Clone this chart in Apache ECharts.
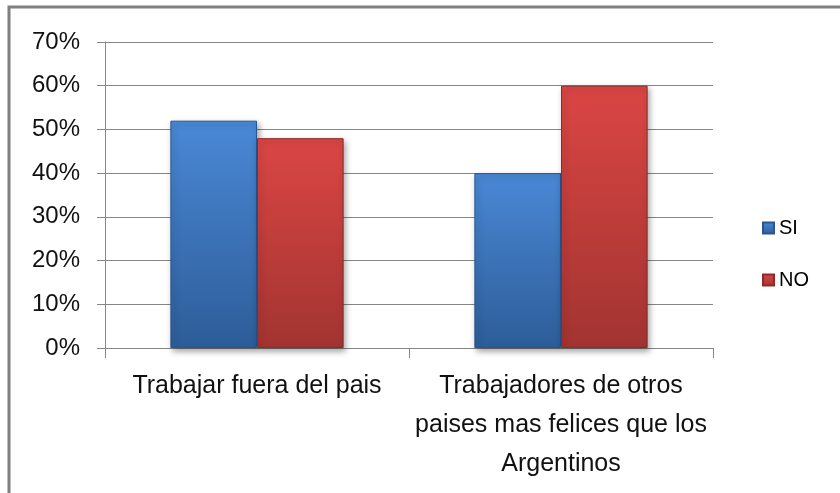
<!DOCTYPE html>
<html>
<head>
<meta charset="utf-8">
<script src="https://cdn.jsdelivr.net/npm/echarts@6/dist/echarts.min.js"></script>
<style>html,body{margin:0;padding:0;background:#fff}#c{width:840px;height:493px}</style>
</head>
<body>
<div id="c"></div>
<script>
var categories = ['Trabajar fuera del pais', 'Trabajadores de otros\npaises mas felices que los\nArgentinos'];
var seriesNames = ['SI', 'NO'];
var siValues = [52, 40];
var noValues = [48, 60];
var yTicks = {min: 0, max: 70, interval: 10};

var FONT = "'Liberation Sans Narrow', 'Liberation Sans', Arial, sans-serif";
var chart = echarts.init(document.getElementById('c'), null, {renderer: 'canvas'});

function grad(top, bottom) {
  return new echarts.graphic.LinearGradient(0, 0, 0, 1, [
    {offset: 0, color: top}, {offset: 1, color: bottom}
  ]);
}

chart.setOption({
  animation: false,
  backgroundColor: '#fff',
  graphic: [{
    type: 'rect', shape: {x: 9, y: 7, width: 840, height: 500},
    style: {fill: 'none', stroke: '#7f7f7f', lineWidth: 3}, z: 100
  }],
  grid: {left: 105, right: 127, top: 42, bottom: 145},
  legend: {
    orient: 'vertical', left: 757, top: 213,
    itemWidth: 11, itemHeight: 11, itemGap: 32,
    icon: 'rect',
    textStyle: {fontFamily: FONT, fontSize: 20, color: '#000', padding: [0, 0, 0, 0]},
    data: seriesNames
  },
  xAxis: {
    type: 'category', data: categories,
    axisLine: {lineStyle: {color: '#868686', width: 1}},
    axisTick: {show: true, length: 10, lineStyle: {color: '#868686'}},
    axisLabel: {fontFamily: FONT, fontSize: 25, color: '#111', margin: 19, lineHeight: 39, interval: 0}
  },
  yAxis: {
    type: 'value', min: yTicks.min, max: yTicks.max, interval: yTicks.interval,
    axisLine: {show: true, lineStyle: {color: '#868686'}},
    axisTick: {show: true, length: 8, lineStyle: {color: '#868686'}},
    axisLabel: {fontFamily: FONT, fontSize: 24, color: '#111', margin: 25, formatter: '{value}%'},
    splitLine: {lineStyle: {color: '#868686', width: 1}}
  },
  series: [{
    name: 'SI', type: 'bar', data: siValues, barGap: '0%', barCategoryGap: '43%',
    itemStyle: {color: grad('#4a88d6', '#2d5d98'), borderColor: '#2a5590', borderWidth: 1,
      shadowColor: 'rgba(0,0,0,0.35)', shadowBlur: 6, shadowOffsetX: 2, shadowOffsetY: 3}
  }, {
    name: 'NO', type: 'bar', data: noValues,
    itemStyle: {color: grad('#da4644', '#a23431'), borderColor: '#8e2b29', borderWidth: 1,
      shadowColor: 'rgba(0,0,0,0.35)', shadowBlur: 6, shadowOffsetX: 2, shadowOffsetY: 3}
  }]
});
</script>
</body>
</html>
